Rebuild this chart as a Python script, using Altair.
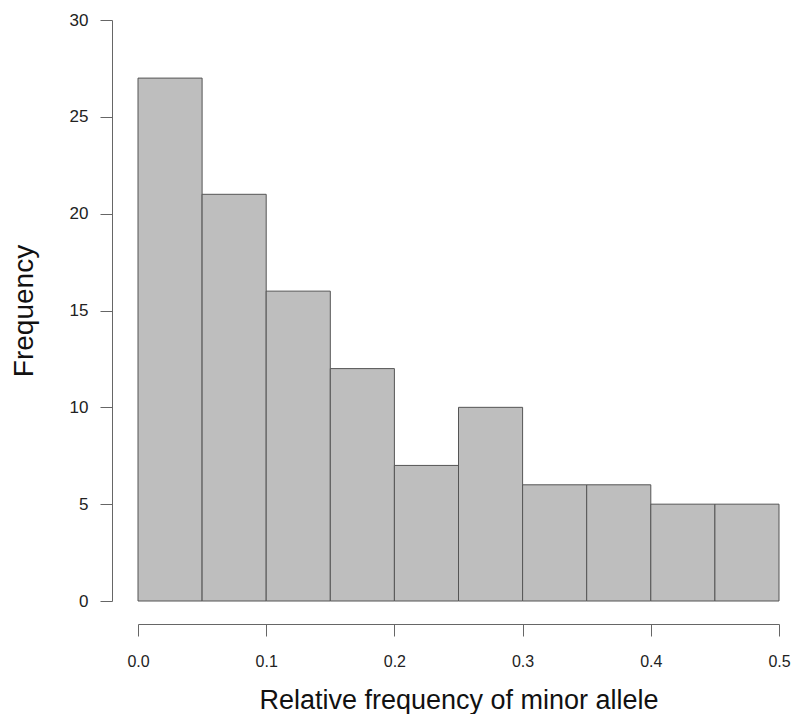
import altair as alt
import pandas as pd

bin_start = [0.00, 0.05, 0.10, 0.15, 0.20, 0.25, 0.30, 0.35, 0.40, 0.45]
bin_end = [0.05, 0.10, 0.15, 0.20, 0.25, 0.30, 0.35, 0.40, 0.45, 0.50]
counts = [27, 21, 16, 12, 7, 10, 6, 6, 5, 5]
x_ticks = [0.0, 0.1, 0.2, 0.3, 0.4, 0.5]
y_ticks = [0, 5, 10, 15, 20, 25, 30]

df = pd.DataFrame({"start": bin_start, "end": bin_end, "count": counts})

font = "Liberation Sans"

chart = alt.Chart(df).mark_rect(
    fill="#bebebe", stroke="#555555", strokeWidth=1
).encode(
    x=alt.X("start:Q",
            scale=alt.Scale(domain=[0, 0.5], nice=False, zero=False),
            axis=alt.Axis(values=x_ticks, format=".1f", title="Relative frequency of minor allele",
                          offset=23, grid=False, tickSize=12, labelPadding=17,
                          titlePadding=18, domainColor="#666666", tickColor="#666666",
                          labelFontSize=16, titleFontSize=27, labelColor="#222222",
                          titleColor="#111111", labelFont=font, titleFont=font,
                          titleFontWeight="normal", labelFlush=False)),
    x2="end:Q",
    y=alt.Y("count:Q",
            scale=alt.Scale(domain=[0, 30], nice=False),
            axis=alt.Axis(values=y_ticks, title="Frequency",
                          offset=26, grid=False, tickSize=12, labelPadding=12,
                          titlePadding=31, domainColor="#666666", tickColor="#666666",
                          labelFontSize=17, titleFontSize=28, labelColor="#222222",
                          titleColor="#111111", labelFont=font, titleFont=font,
                          titleFontWeight="normal", labelFlush=False)),
    y2=alt.datum(0),
).properties(
    width=641, height=581,
    background="white",
    autosize=alt.AutoSizeParams(type="none"),
    padding={"left": 130, "top": 12, "right": 12, "bottom": 113},
).configure_view(strokeWidth=0, stroke=None)

chart.save("out.html", embed_options={"renderer": "svg", "actions": False})
